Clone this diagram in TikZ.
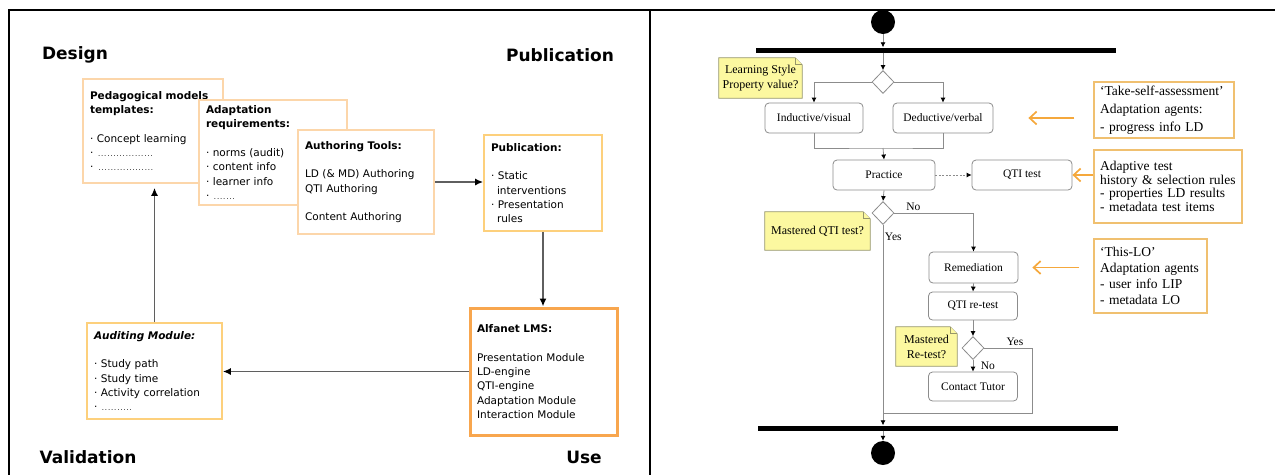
\documentclass[tikz,border=0pt]{standalone}
\usepackage{fontspec}
\usetikzlibrary{arrows.meta,shapes.geometric,backgrounds}
\newfontfamily\slidefont{DejaVu Sans}
\newfontfamily\umlfont{Liberation Serif}
\definecolor{peach}{RGB}{252,214,170}
\definecolor{gold}{RGB}{253,208,124}
\definecolor{lmsorange}{RGB}{248,166,78}
\definecolor{hintorange}{RGB}{245,168,60}
\definecolor{annoborder}{RGB}{240,192,112}
\definecolor{umlgray}{RGB}{140,140,140}
\definecolor{pushgray}{RGB}{95,95,95}
\definecolor{noteyellow}{RGB}{252,248,160}
\definecolor{noteborder}{RGB}{150,150,105}
\newcommand\fillerdots[1]{{\scriptsize\makebox[#1pt]{\dotfill}}}
\newcommand\dogear[1]{%
  \filldraw[notepaper] (#1.south west) -- (#1.north west) -- ([xshift=-7pt]#1.north east)
    -- ([yshift=-7pt]#1.north east) -- (#1.south east) -- cycle;
  \draw[notepaper] ([xshift=-7pt]#1.north east) -- ([xshift=-7pt,yshift=-7pt]#1.north east)
    -- ([yshift=-7pt]#1.north east);}

\begin{document}
\begin{tikzpicture}
[
    x=1pt, y=-1pt,
    frame/.style={line width=2.2pt, black},
    phase/.style={font=\slidefont\bfseries\fontsize{17}{20}\selectfont},
    slide/.style={font=\slidefont\fontsize{10.5}{14.3}\selectfont, align=left,
        inner xsep=7pt, inner ysep=0pt, fill=white, line width=1.6pt},
    push/.style={draw=pushgray, line width=1.8pt, -{Latex[length=8pt,width=7pt,color=black]}},
    umlbox/.style={draw=umlgray, fill=white, rounded corners=4pt, line width=.8pt,
        font=\umlfont\fontsize{11.5}{13}\selectfont, inner sep=0pt},
    choice/.style={diamond, draw=umlgray, fill=white, line width=.8pt,
        minimum width=22pt, minimum height=23pt, inner sep=0pt},
    dot/.style={circle, fill=black, minimum size=24pt, inner sep=0pt},
    bar/.style={fill=black, inner sep=0pt, minimum height=5pt, minimum width=360pt},
    flow/.style={draw=umlgray, line width=.8pt, -{Latex[length=5pt,width=5pt,color=black]}},
    line/.style={draw=umlgray, line width=.8pt},
    lbl/.style={font=\umlfont\fontsize{11.5}{13}\selectfont, inner sep=1.5pt},
    notetext/.style={font=\umlfont\fontsize{12}{15}\selectfont, align=center, inner sep=0pt},
    notepaper/.style={draw=noteborder, fill=noteyellow, line width=.8pt},
    anno/.style={draw=annoborder, line width=1.2pt, align=left, inner xsep=6pt, inner ysep=0pt,
        font=\umlfont\fontsize{13.5}{13.5}\selectfont},
    hint/.style={draw=hintorange, line width=1.7pt, -{Straight Barb[length=7pt,width=13pt]}},
]
\useasboundingbox (0,0) rectangle (1275,475);

\draw[frame] (8,10) -- (1275,10);
\draw[frame] (9,10) -- (9,475);
\draw[frame] (650,10) -- (650,475);

% left panel
\node[phase] (design) at (75,55) {Design};
\node[phase] (publication) at (560,55) {Publication};
\node[phase] (validation) at (88,457) {Validation};
\node[phase] (use) at (584,457) {Use};

\node[slide, draw=peach, text width=126pt, minimum height=104pt] (pedag) at (153,131)
  {\textbf{Pedagogical models}\\\textbf{templates:}\\[14.3pt]
   · Concept learning\\ · \fillerdots{57}\\ · \fillerdots{58}};
\node[slide, draw=peach, text width=134pt, minimum height=105pt] (adapt) at (273,152.5)
  {\textbf{Adaptation}\\\textbf{requirements:}\\[14.3pt]
   · norms (audit)\\ · content info\\ · learner info\\ · \fillerdots{23}};
\node[slide, draw=peach, text width=122pt, minimum height=104pt] (author) at (366,182)
  {\textbf{Authoring Tools:}\\[14.3pt]
   LD (\& MD) Authoring\\ QTI Authoring\\[14.3pt] Content Authoring};
\node[slide, draw=gold, text width=104pt, minimum height=96pt] (publ) at (543,183)
  {\textbf{Publication:}\\[14.3pt]
   · Static\\ \hspace*{6pt}interventions\\ · Presentation\\ \hspace*{6pt}rules};
\node[slide, draw=lmsorange, line width=3pt, text width=133pt, minimum height=127pt] (alfa) at (543.5,371.5)
  {\textbf{Alfanet LMS:}\\[14.3pt]
   Presentation Module\\ LD-engine\\ QTI-engine\\ Adaptation Module\\ Interaction Module};
\node[slide, draw=gold, text width=121pt, minimum height=96pt] (audit) at (154.5,371)
  {\textbf{\itshape Auditing Module:}\\[14.3pt]
   · Study path\\ · Study time\\ · Activity correlation\\ · \fillerdots{32}};

\draw[push] (author.east) -- (author.east -| publ.west);
\draw[push] (publ.south) -- (publ.south |- alfa.north);
\draw[push] (alfa.west) -- (alfa.west -| audit.east);
\draw[push, shorten >=4pt] (audit.north) -- (audit.north |- pedag.south);

% right panel
\node[dot] (start) at (883,22) {};
\node[bar] (fork) at (935.5,50) {};
\node[choice] (style) at (883,82) {};
\node[umlbox, minimum width=98pt, minimum height=30pt] (ind) at (814,118) {Inductive/visual};
\node[umlbox, minimum width=100pt, minimum height=30pt] (ded) at (943,118) {Deductive/verbal};
\coordinate (merge) at (883,148);
\node[umlbox, minimum width=102pt, minimum height=30pt] (prac) at (884,175) {Practice};
\node[umlbox, minimum width=100pt, minimum height=30pt] (qti) at (1022,175) {QTI test};
\node[choice] (mastered) at (883,213) {};
\node[umlbox, minimum width=89pt, minimum height=31pt] (remed) at (973.5,267.5) {Remediation};
\node[umlbox, minimum width=89pt, minimum height=28pt] (retest) at (973,306) {QTI re-test};
\node[choice] (remastered) at (973,348) {};
\node[umlbox, minimum width=89pt, minimum height=29pt] (tutor) at (973,386.5) {Contact Tutor};
\coordinate (loopR) at (1032,413);
\coordinate (loopL) at (883,413);
\node[bar] (join) at (938,428) {};
\node[dot] (finish) at (883,453) {};

\draw[flow] (start) -- (start |- fork.north);
\draw[flow] (start |- fork.south) -- (style.north);
\draw[flow] (style.west) -| (ind.north);
\draw[flow] (style.east) -| (ded.north);
\draw[line] (ind.south) |- (merge) -| (ded.south);
\draw[flow] (merge) -- (prac.north);
\draw[flow, dash pattern=on 2pt off 1.5pt] (prac.east) -- (qti.west);
\draw[flow] (prac.south) -- (mastered.north);
\draw[flow] (mastered.east) -| (remed.north) node[lbl, pos=0.12, above] {No};
\draw[flow] (mastered.south) -- (join.north -| mastered.south) node[lbl, pos=0.06, right] {Yes};
\draw[flow] (remed.south) -- (retest.north);
\draw[flow] (retest.south) -- (remastered.north);
\draw[flow] (remastered.south) -- (tutor.north) node[lbl, midway, right=6pt] {No};
\draw[line] (remastered.east) -| (loopR) node[lbl, pos=0.32, above] {Yes} -- (loopL);
\draw[flow] (join.south -| finish) -- (finish.north);

\node[notetext, minimum width=83pt, minimum height=40pt] (stylenote) at (760.5,78) {Learning Style\\Property value?};
\node[notetext, minimum width=105pt, minimum height=38pt] (qtinote) at (817.5,231) {Mastered QTI test?};
\node[notetext, minimum width=61pt, minimum height=39pt] (retestnote) at (926.5,346.5) {Mastered\\Re-test?};

\node[anno, text width=128pt, minimum height=56pt, font=\umlfont\fontsize{13.5}{18}\selectfont] (selfassess) at (1164,110)
  {‘Take-self-assessment’\\ Adaptation agents:\\ - progress info LD};
\node[anno, text width=136pt, minimum height=73pt] (adaptest) at (1168,186.5)
  {Adaptive test\\ history \& selection rules\\ - properties LD results\\ - metadata test items};
\node[anno, text width=101pt, minimum height=74pt, font=\umlfont\fontsize{13.5}{16}\selectfont] (thislo) at (1150.5,276)
  {‘This-LO’\\ Adaptation agents\\ - user info LIP\\ - metadata LO};

\draw[hint] ([xshift=-19pt]selfassess.west |- ded.east) -- ([xshift=35pt]ded.east);
\draw[hint] (adaptest.west |- qti.east) -- (qti.east);
\draw[hint] ([xshift=-14pt]thislo.west |- remed.east) -- ([xshift=14pt]remed.east);

\begin{pgfonlayer}{background}
\dogear{stylenote}
\dogear{qtinote}
\dogear{retestnote}
\end{pgfonlayer}
\end{tikzpicture}
\end{document}
